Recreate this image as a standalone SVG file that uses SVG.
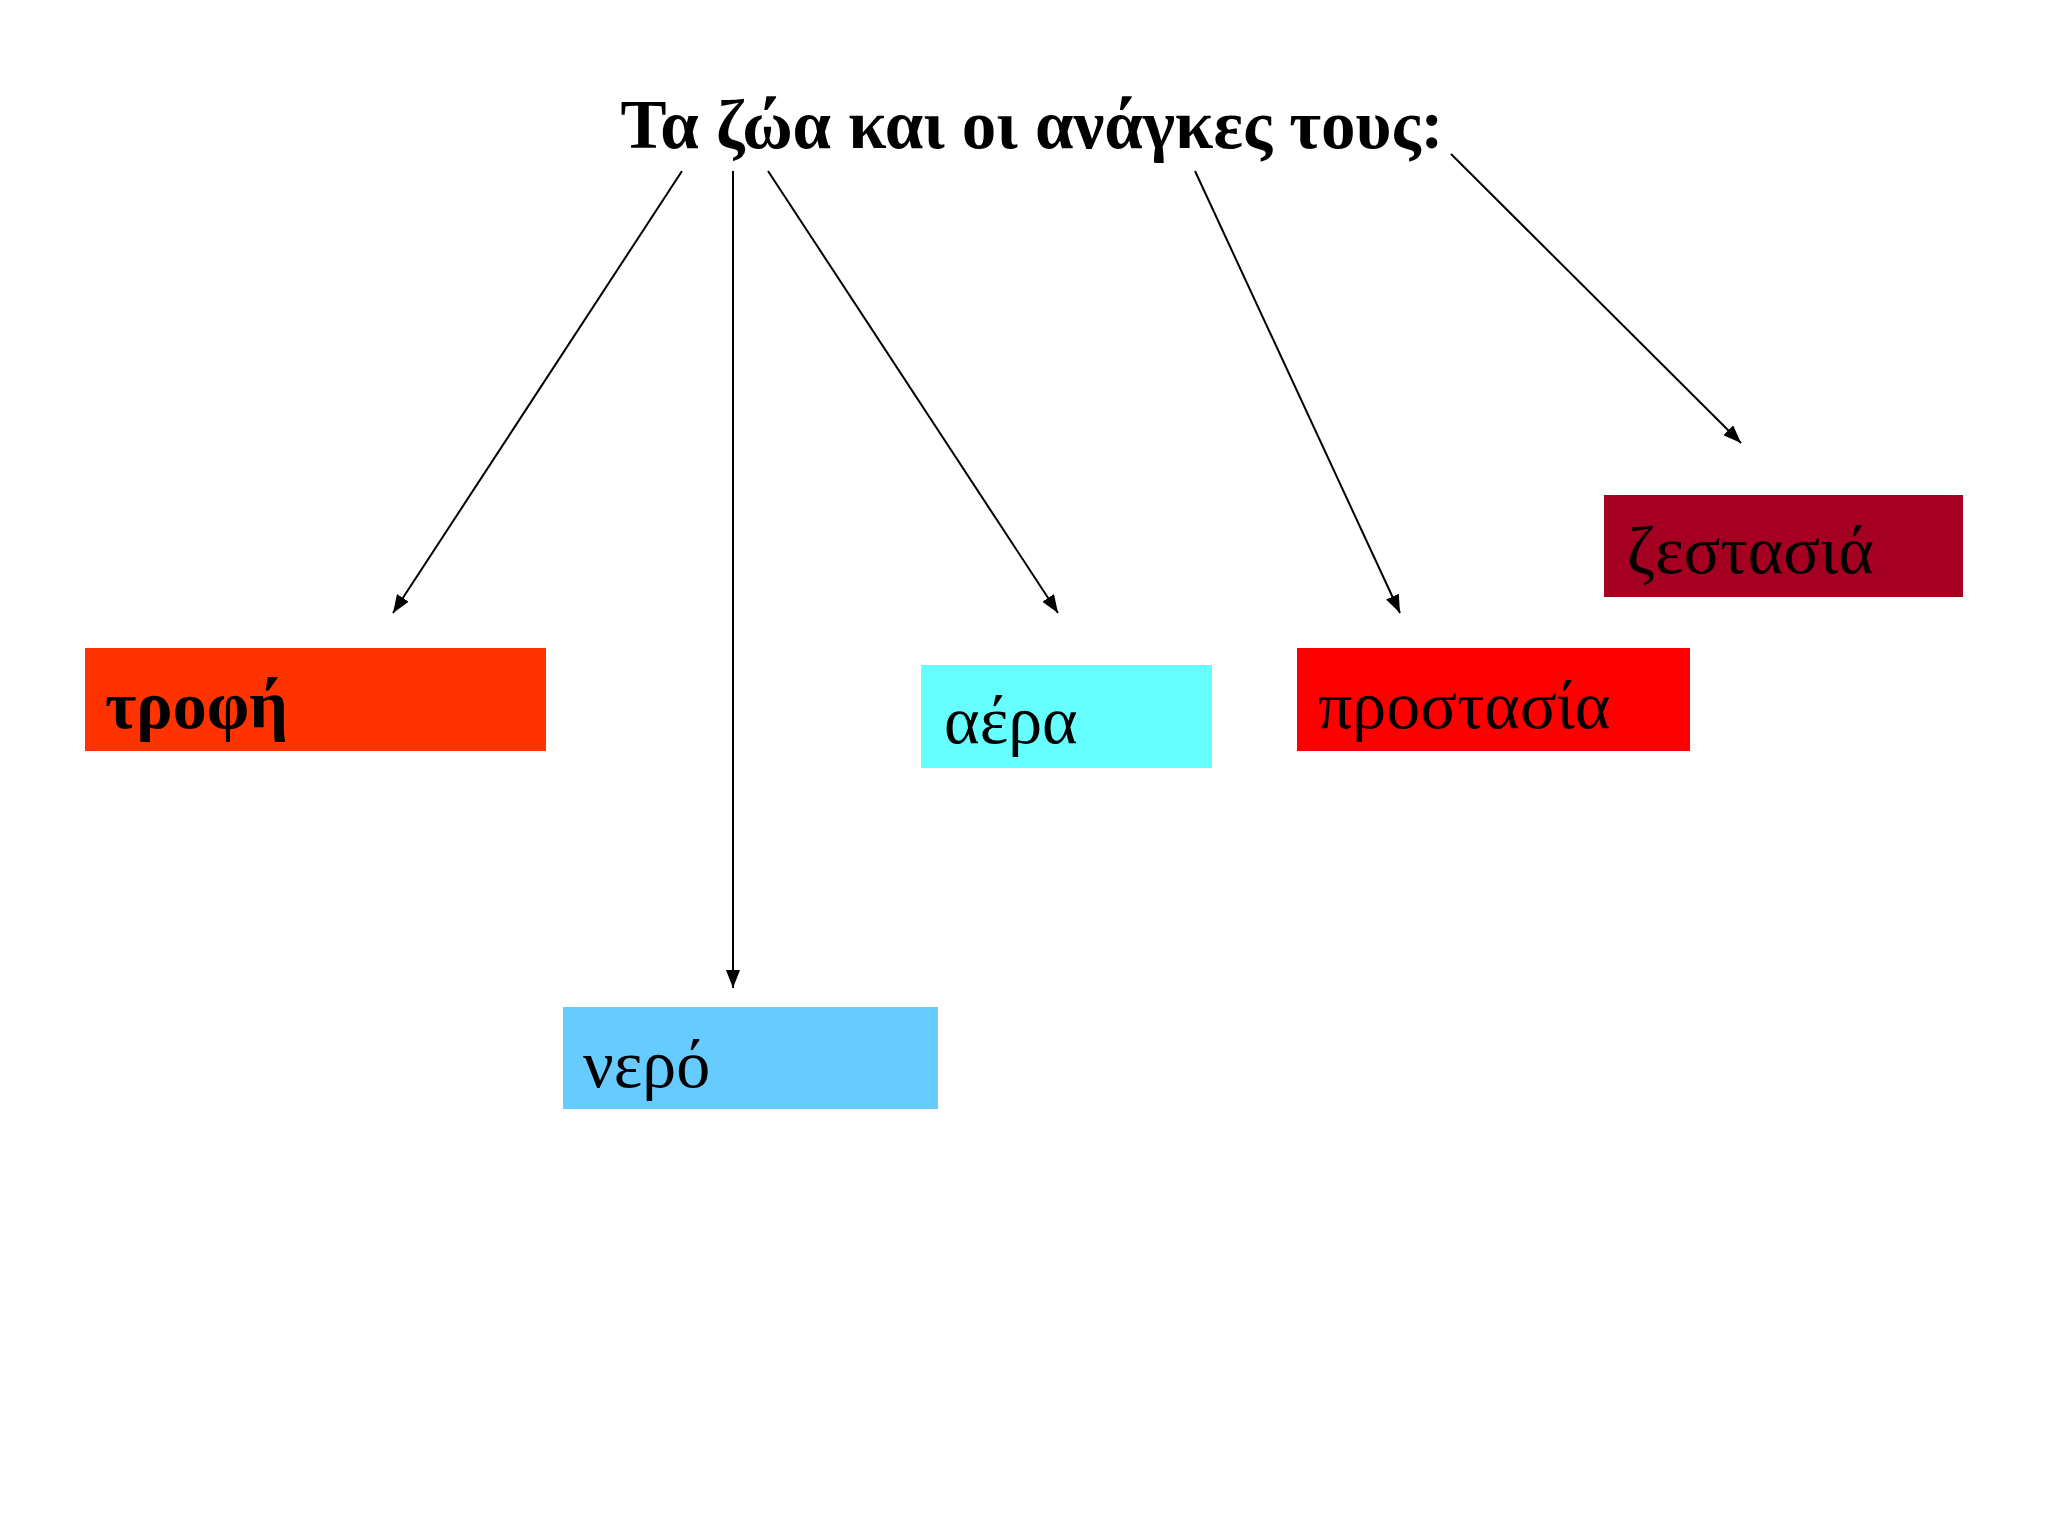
<svg xmlns="http://www.w3.org/2000/svg" width="2048" height="1536" viewBox="0 0 2048 1536">
<defs>
<style>
.t{font-family:"Liberation Serif","Times New Roman",serif;font-size:68px;fill:#000}
.h{font-size:69px}
.b{font-weight:bold}
.c{stroke:#000;stroke-width:2;fill:none;marker-end:url(#ah)}
</style>
<marker id="ah" markerUnits="userSpaceOnUse" markerWidth="18" markerHeight="14" viewBox="0 0 18 14" refX="18" refY="7" orient="auto">
<path d="M0,0 L18,7 L0,14 Z" fill="#000"/>
</marker>
</defs>
<rect width="2048" height="1536" fill="#fff"/>
<g id="title"><text class="t b h" x="1032" y="148" text-anchor="middle">Τα ζώα και οι ανάγκες τους:</text></g>
<g id="connectors">
<line class="c" x1="682" y1="171" x2="393" y2="613"/>
<line class="c" x1="733" y1="171" x2="733" y2="988"/>
<line class="c" x1="768" y1="171" x2="1058" y2="613"/>
<line class="c" x1="1195" y1="171" x2="1400" y2="613"/>
<line class="c" x1="1451" y1="154" x2="1741" y2="443"/>
</g>
<g id="trofi"><rect x="85" y="648" width="461" height="103" fill="#FF3300"/><text class="t b" x="105" y="728">τροφή</text></g>
<g id="nero"><rect x="563" y="1007" width="375" height="102" fill="#66CCFF"/><text class="t" x="583" y="1087">νερό</text></g>
<g id="aera"><rect x="921" y="665" width="291" height="103" fill="#66FFFF"/><text class="t" x="944" y="743">αέρα</text></g>
<g id="prostasia"><rect x="1297" y="648" width="393" height="103" fill="#FF0000"/><text class="t" x="1318" y="728">προστασία</text></g>
<g id="zestasia"><rect x="1604" y="495" width="359" height="102" fill="#A50021"/><text class="t" x="1627" y="573">ζεστασιά</text></g>
</svg>
